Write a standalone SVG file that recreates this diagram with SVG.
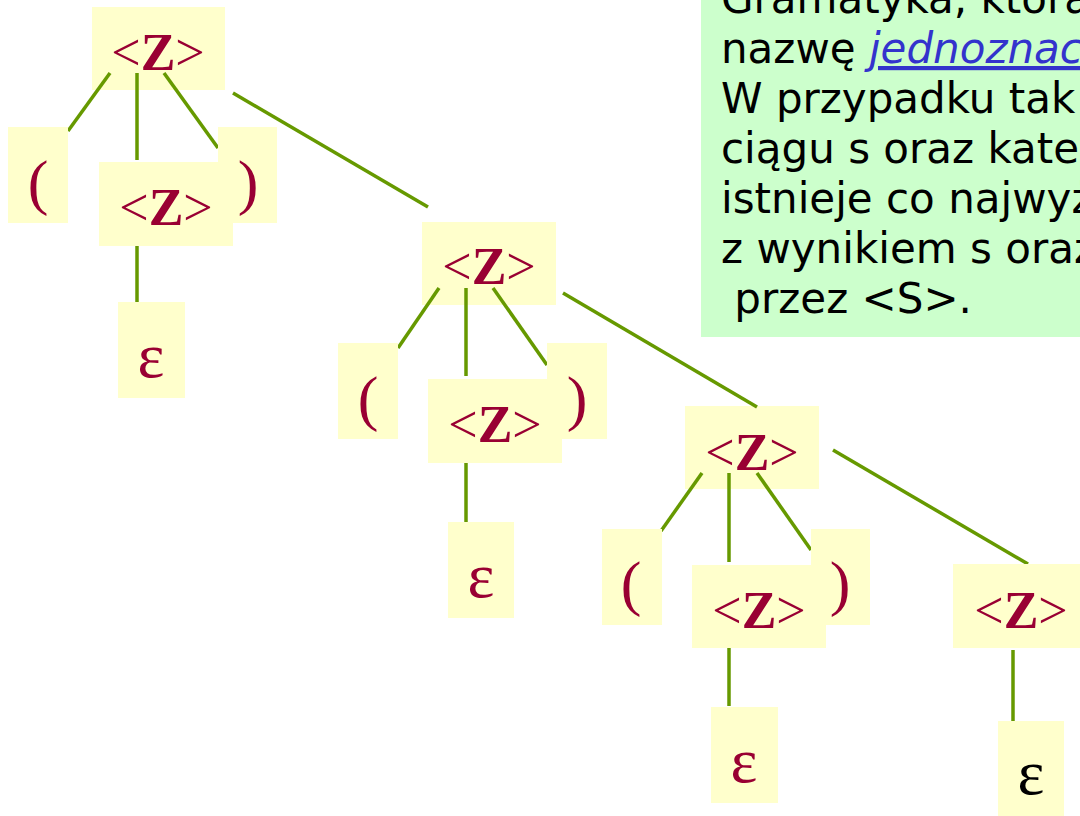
<svg xmlns="http://www.w3.org/2000/svg" width="1080" height="816" viewBox="0 0 1080 816">
<style>
.box{fill:#ffffcc}
.nt{font-family:"Liberation Serif","DejaVu Serif",serif;font-size:52px;fill:#990033;text-anchor:middle}
.nt .z{font-weight:bold}
.par{font-family:"Liberation Serif","DejaVu Serif",serif;font-size:62px;fill:#990033;text-anchor:middle}
.eps{font-family:"Liberation Serif","DejaVu Serif",serif;font-size:64px;fill:#990033;text-anchor:middle}
.edge{stroke:#669900;stroke-width:3.5;fill:none}
.note{font-family:"DejaVu Sans",sans-serif;font-size:42px;fill:#000}
.link{fill:#3333cc;font-style:italic;text-decoration:underline}
</style>
<rect width="1080" height="816" fill="#ffffff"/>
<g id="note">
<rect x="701" y="0" width="379" height="337" fill="#ccffcc"/>
<text class="note" xml:space="preserve"><tspan x="721" y="13">Gramatyka, która</tspan><tspan x="721" y="63">nazwę <tspan class="link">jednoznac</tspan></tspan><tspan x="721" y="113">W przypadku tak</tspan><tspan x="721" y="163">ciągu s oraz kate</tspan><tspan x="721" y="213">istnieje co najwyż</tspan><tspan x="721" y="263">z wynikiem s oraz</tspan><tspan x="721" y="313"> przez &lt;S&gt;.</tspan></text>
</g>
<g id="t1-root"><rect class="box" x="92" y="7" width="133" height="83"/></g>
<g id="t2-root"><rect class="box" x="422" y="222" width="134" height="83"/></g>
<g id="t3-root"><rect class="box" x="685" y="406" width="134" height="83"/></g>
<g id="connectors">
<line class="edge" x1="110" y1="73" x2="68" y2="131"/>
<line class="edge" x1="137" y1="73" x2="137" y2="160"/>
<line class="edge" x1="164" y1="73" x2="218" y2="148"/>
<line class="edge" x1="137" y1="226" x2="137" y2="302"/>
<line class="edge" x1="233" y1="93" x2="428" y2="207"/>
<line class="edge" x1="439" y1="288" x2="398" y2="348"/>
<line class="edge" x1="466" y1="288" x2="466" y2="376"/>
<line class="edge" x1="493" y1="288" x2="547" y2="365"/>
<line class="edge" x1="466" y1="444" x2="466" y2="522"/>
<line class="edge" x1="563" y1="293" x2="757" y2="407"/>
<line class="edge" x1="702" y1="473" x2="661" y2="531"/>
<line class="edge" x1="729" y1="473" x2="729" y2="562"/>
<line class="edge" x1="757" y1="473" x2="811" y2="550"/>
<line class="edge" x1="729" y1="629" x2="729" y2="706"/>
<line class="edge" x1="833" y1="450" x2="1028" y2="564"/>
<line class="edge" x1="1013" y1="650" x2="1013" y2="721"/>
</g>
<g id="t1-lp"><rect class="box" x="8" y="127" width="60" height="96"/><text class="par" x="38" y="203">(</text></g>
<g id="t1-rp"><rect class="box" x="218" y="127" width="59" height="96"/><text class="par" x="248" y="203">)</text></g>
<g id="t1-child"><rect class="box" x="99" y="162" width="134" height="84"/><text class="nt" x="166" y="225">&lt;<tspan class="z">Z</tspan>&gt;</text></g>
<g id="t1-eps"><rect class="box" x="118" y="302" width="67" height="96"/><text class="eps" x="151" y="377">ε</text></g>
<text class="nt" x="158" y="70">&lt;<tspan class="z">Z</tspan>&gt;</text>
<g id="t2-lp"><rect class="box" x="338" y="343" width="60" height="96"/><text class="par" x="368" y="419">(</text></g>
<g id="t2-rp"><rect class="box" x="547" y="343" width="60" height="96"/><text class="par" x="577" y="419">)</text></g>
<g id="t2-child"><rect class="box" x="428" y="379" width="134" height="84"/><text class="nt" x="495" y="442">&lt;<tspan class="z">Z</tspan>&gt;</text></g>
<g id="t2-eps"><rect class="box" x="448" y="522" width="66" height="96"/><text class="eps" x="481" y="597">ε</text></g>
<text class="nt" x="489" y="284">&lt;<tspan class="z">Z</tspan>&gt;</text>
<g id="t3-lp"><rect class="box" x="602" y="529" width="60" height="96"/><text class="par" x="631" y="604">(</text></g>
<g id="t3-rp"><rect class="box" x="811" y="529" width="59" height="96"/><text class="par" x="840" y="604">)</text></g>
<g id="t3-child"><rect class="box" x="692" y="565" width="134" height="83"/><text class="nt" x="759" y="628">&lt;<tspan class="z">Z</tspan>&gt;</text></g>
<g id="t3-eps"><rect class="box" x="711" y="707" width="67" height="96"/><text class="eps" x="744" y="782">ε</text></g>
<text class="nt" x="752" y="470">&lt;<tspan class="z">Z</tspan>&gt;</text>
<g id="t4-root"><rect class="box" x="953" y="564" width="127" height="84"/><text class="nt" x="1021" y="628">&lt;<tspan class="z">Z</tspan>&gt;</text></g>
<g id="t4-eps"><rect class="box" x="998" y="721" width="66" height="95"/><text class="eps" x="1031" y="794" style="fill:#000">ε</text></g>
</svg>
